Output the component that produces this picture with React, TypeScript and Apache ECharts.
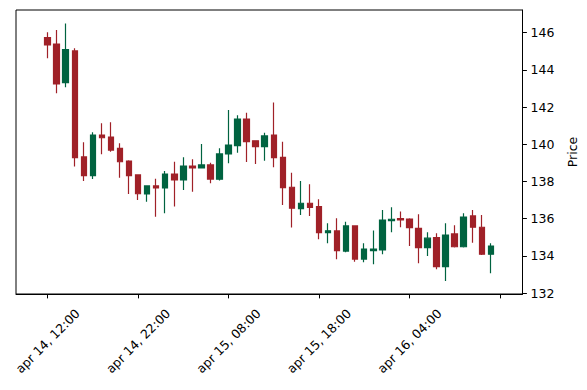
import React, { useEffect, useRef } from "react";
import * as echarts from "echarts";

// OHLC per hourly candle, starting apr 14, 12:00
const opens = [145.73, 145.39, 143.31, 145.02, 139.32, 138.31, 140.5, 140.39, 139.78, 139.1,
  138.35, 137.33, 137.76, 137.65, 138.4, 138.08, 138.83, 138.73, 138.89, 138.12,
  139.48, 139.93, 141.36, 140.19, 139.87, 140.5, 139.3, 137.69, 136.54, 136.83,
  136.65, 135.25, 135.34, 134.26, 135.61, 133.83, 134.28, 134.32, 135.89, 136.0,
  135.98, 135.48, 134.44, 134.98, 133.42, 135.18, 134.49, 136.15, 135.54, 134.09];
const closes = [145.34, 143.24, 145.09, 139.28, 138.31, 140.5, 140.35, 139.69, 139.06, 138.31,
  137.34, 137.76, 137.65, 138.4, 138.08, 138.83, 138.73, 138.89, 138.13, 139.48,
  139.96, 141.36, 140.14, 139.87, 140.45, 139.28, 137.67, 136.56, 136.83, 136.61,
  135.25, 135.35, 134.28, 135.61, 133.83, 134.37, 134.37, 135.93, 135.97, 135.93,
  135.52, 134.44, 134.95, 133.42, 135.12, 134.49, 136.09, 135.54, 134.09, 134.53];
const lows = [144.62, 142.74, 143.06, 138.8, 138.03, 138.13, 139.46, 139.6, 138.2, 137.33,
  137.0, 136.91, 136.11, 136.29, 136.65, 137.54, 137.45, 138.7, 137.9, 138.05,
  138.98, 139.55, 139.05, 138.94, 139.12, 138.76, 136.74, 135.52, 136.2, 136.15,
  134.89, 134.68, 133.82, 134.2, 133.69, 133.66, 133.55, 134.09, 135.27, 135.54,
  134.53, 133.6, 133.99, 133.28, 132.65, 134.45, 134.45, 134.71, 134.05, 133.06];
const highs = [146.02, 146.15, 146.5, 145.16, 140.11, 140.65, 141.13, 141.18, 140.05, 139.14,
  138.38, 137.8, 138.15, 138.56, 139.06, 139.3, 139.19, 140.02, 139.01, 139.78,
  141.84, 141.56, 141.7, 140.2, 140.62, 142.24, 140.14, 138.47, 138.03, 137.85,
  137.04, 135.75, 136.02, 135.84, 135.64, 134.68, 135.36, 136.47, 136.61, 136.38,
  136.02, 136.24, 135.27, 135.21, 135.75, 135.64, 136.29, 136.47, 136.2, 134.68];

// x tick positions (candle index) and their labels
const tickIndexes = [0, 10, 20, 30, 40, 50];
const tickLabels = ["apr 14, 12:00", "apr 14, 22:00", "apr 15, 08:00", "apr 15, 18:00", "apr 16, 04:00", ""];
const yTicks = [132, 134, 136, 138, 140, 142, 144, 146];

const PAD = 3;
const UP = "#006340";
const DOWN = "#A02128";
const FONT = "DejaVu Sans";

export default function App() {
  const ref = useRef<HTMLDivElement>(null);
  useEffect(() => {
    if (!ref.current) return;
    const chart = echarts.init(ref.current, undefined, { renderer: "svg" });
    const n = opens.length;
    const total = n + PAD * 2;
    const cats: string[] = [];
    const data: any[] = [];
    for (let k = 0; k < total; k++) {
      const i = k - PAD;
      cats.push(String(i));
      if (i >= 0 && i < n) data.push([opens[i], closes[i], lows[i], highs[i]]);
      else data.push(["-", "-", "-", "-"]);
    }
    const tickSet = (idx: number) => tickIndexes.indexOf(idx - PAD) >= 0;
    chart.setOption({
      animation: false,
      grid: {
        left: 16,
        right: 64.5,
        top: 10,
        bottom: 96,
        show: true,
        borderColor: "#000",
        borderWidth: 1,
        backgroundColor: "transparent",
      },
      xAxis: {
        type: "category",
        data: cats,
        boundaryGap: true,
        axisLine: { show: true, lineStyle: { color: "#000", width: 1 } },
        axisTick: {
          show: true,
          alignWithLabel: true,
          length: 4.4,
          interval: (idx: number) => tickSet(idx),
          lineStyle: { color: "#000", width: 1 },
        },
        axisLabel: {
          interval: (idx: number) => tickSet(idx),
          rotate: 45,
          align: "center",
          verticalAlign: "middle",
          margin: 47,
          color: "#000",
          fontFamily: FONT,
          fontSize: 12.5,
          formatter: (v: string) => {
            const j = tickIndexes.indexOf(Number(v));
            return j >= 0 ? tickLabels[j] : "";
          },
        },
        splitLine: { show: false },
      },
      yAxis: {
        type: "value",
        position: "right",
        min: 131.95,
        max: 147.22,
        scale: true,
        name: "Price",
        nameLocation: "middle",
        nameRotate: 90,
        nameGap: 43,
        nameTextStyle: { color: "#000", fontFamily: FONT, fontSize: 12.5 },
        axisLine: { show: true, lineStyle: { color: "#000", width: 1 } },
        axisTick: {
          show: true,
          length: 4.4,
          customValues: yTicks,
          lineStyle: { color: "#000", width: 1 },
        },
        axisLabel: {
          customValues: yTicks,
          margin: 8,
          color: "#000",
          fontFamily: FONT,
          fontSize: 12.5,
        },
        splitLine: { show: false },
      },
      series: [
        {
          type: "candlestick",
          data,
          barWidth: 6,
          itemStyle: {
            color: UP,
            color0: DOWN,
            borderColor: UP,
            borderColor0: DOWN,
            borderWidth: 1.2,
          },
        },
      ],
    });
    return () => chart.dispose();
  }, []);
  return (
    <div
      ref={ref}
      style={{ position: "fixed", left: 0, top: 0, width: 587, height: 390, background: "#fff" }}
    />
  );
}
